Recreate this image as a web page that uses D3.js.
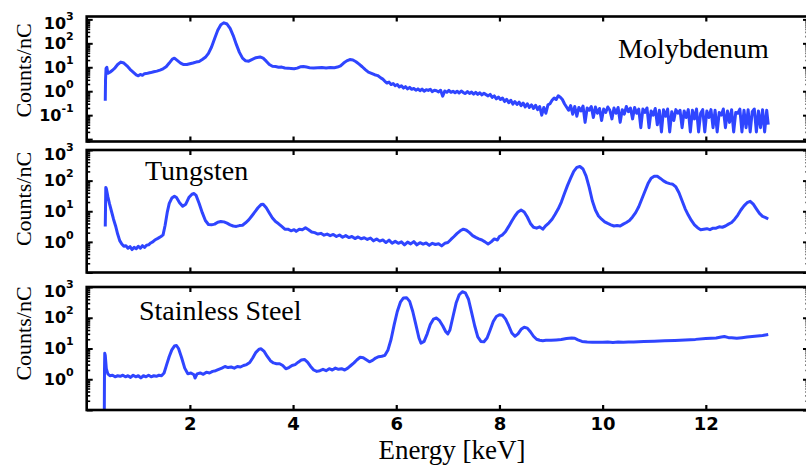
<!DOCTYPE html>
<html><head><meta charset="utf-8">
<script src="https://cdn.jsdelivr.net/npm/d3@7/dist/d3.min.js"></script>
<style>
html,body{margin:0;padding:0;background:#fff;}
svg{display:block;}
</style></head>
<body>
<svg id="chart" width="806" height="466"></svg>
<script>
// ---------------- DATA ----------------
const xTicks = [2, 4, 6, 8, 10, 12];
const panelNames = ["Molybdenum", "Tungsten", "Stainless Steel"];
const yTickExpTop = [-1, 0, 1, 2, 3];
const yTickExpOther = [0, 1, 2, 3];

const moEnergy = [0.36,0.365,0.375,0.39,0.41,0.45,0.5,0.55,0.6,0.66,0.72,0.78,0.84,0.9,0.96,1.0,1.04,1.08,1.12,1.18,1.24,1.3,1.36,1.42,1.48,1.54,1.6,1.66,1.7,1.76,1.82,1.88,1.94,2.0,2.06,2.12,2.18,2.24,2.3,2.36,2.42,2.48,2.54,2.6,2.66,2.72,2.78,2.84,2.9,2.96,3.02,3.08,3.14,3.2,3.28,3.36,3.42,3.48,3.54,3.6,3.66,3.72,3.78,3.84,3.9,3.96,4.02,4.08,4.14,4.2,4.26,4.32,4.4,4.48,4.56,4.64,4.72,4.8,4.86,4.92,4.98,5.04,5.1,5.16,5.22,5.28,5.34,5.4,5.46,5.52,5.58,5.64,5.7,5.74,5.78,5.82,5.86,5.9,5.94,5.98,6.02,6.06,6.1,6.14,6.18,6.22,6.26,6.3,6.34,6.38,6.42,6.46,6.5,6.54,6.58,6.62,6.66,6.7,6.74,6.78,6.82,6.86,6.9,6.94,6.98,7.02,7.06,7.1,7.14,7.18,7.22,7.26,7.3,7.34,7.38,7.42,7.46,7.5,7.54,7.58,7.62,7.66,7.7,7.74,7.78,7.82,7.86,7.9,7.94,7.98,8.02,8.06,8.1,8.14,8.18,8.22,8.26,8.3,8.34,8.38,8.42,8.46,8.5,8.54,8.58,8.62,8.66,8.7,8.74,8.78,8.82,8.86,8.9,8.94,8.98,9.02,9.06,9.1,9.14,9.18,9.22,9.26,9.3,9.34,9.38,9.42,9.46,9.5,9.54,9.58,9.62,9.66,9.7,9.74,9.78,9.82,9.86,9.9,9.94,9.98,10.02,10.06,10.1,10.14,10.18,10.22,10.26,10.3,10.34,10.38,10.42,10.46,10.5,10.54,10.58,10.62,10.66,10.7,10.74,10.78,10.82,10.86,10.9,10.94,10.98,11.02,11.06,11.1,11.14,11.18,11.22,11.26,11.3,11.34,11.38,11.42,11.46,11.5,11.54,11.58,11.62,11.66,11.7,11.74,11.78,11.82,11.86,11.9,11.94,11.98,12.02,12.06,12.1,12.14,12.18,12.22,12.26,12.3,12.34,12.38,12.42,12.46,12.5,12.54,12.58,12.62,12.66,12.7,12.74,12.78,12.82,12.86,12.9,12.94,12.98,13.02,13.06,13.1,13.14,13.18,13.21];
const moCounts = [0.4,3,9,10,5.6,6.2,7.5,9.5,13,16.5,15,11.5,8.2,6.3,4.8,4.4,5.0,4.6,5.4,5.6,6.0,6.5,6.9,7.6,8.6,10.5,15,22,24,19,15,13,13,14,15,16.5,17.5,21,26,38,70,160,350,600,720,640,420,210,90,42,24,18.5,18,21,25,27,24,18,13,11,10.8,10,10.2,9.3,9.2,8.9,8.6,9.2,10.5,10.8,10.2,9.6,9.3,9.5,9.7,9.4,9.8,9.6,10.2,11.5,15,18.5,21,20,17,13.5,10.5,8,6.3,5.6,4.9,4.5,3.6,3.2,2.6,2.2,2.4,1.9,2.1,1.7,1.9,1.5,1.7,1.35,1.55,1.25,1.45,1.2,1.3,1.1,1.25,1.05,1.22,1.0,1.15,1.08,1.2,0.96,1.1,1.04,0.93,1.1,0.62,1.02,0.9,1.08,0.9,1.0,0.86,1.0,0.84,1.02,0.88,0.8,0.97,0.8,0.92,0.76,0.9,0.74,0.86,0.7,0.82,0.72,0.64,0.74,0.55,0.64,0.48,0.57,0.45,0.52,0.37,0.46,0.33,0.42,0.29,0.37,0.28,0.35,0.25,0.32,0.22,0.3,0.21,0.27,0.19,0.26,0.17,0.23,0.1,0.21,0.12,0.27,0.3,0.42,0.52,0.45,0.64,0.56,0.45,0.3,0.22,0.16,0.25,0.11,0.23,0.09,0.21,0.15,0.24,0.05,0.2,0.16,0.23,0.08,0.22,0.12,0.19,0.06,0.18,0.13,0.22,0.16,0.07,0.2,0.12,0.21,0.05,0.17,0.11,0.23,0.14,0.2,0.07,0.21,0.12,0.18,0.03,0.18,0.13,0.2,0.03,0.15,0.1,0.19,0.04,0.16,0.02,0.17,0.09,0.18,0.02,0.14,0.06,0.17,0.12,0.16,0.03,0.15,0.08,0.17,0.02,0.16,0.07,0.18,0.02,0.12,0.17,0.02,0.15,0.08,0.17,0.03,0.16,0.02,0.13,0.1,0.18,0.03,0.15,0.05,0.17,0.02,0.13,0.12,0.18,0.02,0.16,0.03,0.17,0.02,0.14,0.18,0.02,0.15,0.03,0.17,0.02,0.16,0.04];

const wEnergy = [0.36,0.37,0.38,0.41,0.44,0.48,0.52,0.56,0.6,0.64,0.68,0.72,0.76,0.8,0.84,0.88,0.92,0.96,1.0,1.04,1.08,1.12,1.16,1.2,1.24,1.28,1.32,1.38,1.44,1.48,1.52,1.56,1.6,1.65,1.7,1.74,1.8,1.86,1.92,1.98,2.04,2.08,2.12,2.18,2.24,2.3,2.36,2.42,2.48,2.54,2.6,2.66,2.72,2.78,2.84,2.9,2.96,3.02,3.08,3.14,3.2,3.26,3.32,3.38,3.42,3.48,3.54,3.6,3.66,3.72,3.78,3.84,3.9,3.96,4.02,4.06,4.12,4.18,4.24,4.3,4.36,4.42,4.48,4.54,4.6,4.66,4.72,4.78,4.84,4.9,4.96,5.02,5.08,5.14,5.2,5.26,5.32,5.38,5.44,5.5,5.56,5.62,5.68,5.74,5.8,5.86,5.92,5.98,6.04,6.1,6.16,6.22,6.28,6.34,6.4,6.46,6.52,6.58,6.64,6.7,6.76,6.82,6.88,6.94,7.0,7.06,7.12,7.18,7.24,7.3,7.36,7.42,7.48,7.54,7.6,7.66,7.72,7.78,7.84,7.9,7.96,8.0,8.06,8.12,8.18,8.24,8.3,8.36,8.42,8.48,8.54,8.6,8.66,8.72,8.78,8.84,8.9,8.96,9.02,9.08,9.14,9.2,9.26,9.32,9.38,9.44,9.5,9.56,9.62,9.68,9.74,9.8,9.86,9.92,9.98,10.04,10.1,10.16,10.22,10.28,10.34,10.4,10.46,10.52,10.58,10.64,10.7,10.76,10.82,10.88,10.94,11.0,11.06,11.12,11.18,11.24,11.3,11.36,11.42,11.48,11.54,11.6,11.66,11.72,11.78,11.84,11.9,11.96,12.02,12.08,12.14,12.2,12.26,12.32,12.38,12.44,12.5,12.56,12.62,12.68,12.74,12.8,12.86,12.92,12.98,13.04,13.1,13.16,13.21];
const wCounts = [3.2,60,55,30,18,10,5.5,3.3,1.8,1.1,0.85,0.72,0.75,0.62,0.7,0.56,0.66,0.6,0.72,0.62,0.75,0.66,0.78,0.8,0.92,1.0,1.15,1.3,1.5,1.7,3.5,9,18,27,31,28,19,14.5,17,28,36,38,33,18,9,5,3.7,3.6,3.8,4.4,4.6,4.5,4.1,3.6,3.3,3.2,3.4,3.5,4.2,5.2,7,9.5,13,16.5,17,13,8.8,6,4.6,3.9,3.2,2.6,2.6,2.3,2.5,2.2,2.6,2.5,2.9,2.5,2.1,2.0,1.8,1.9,1.65,1.8,1.6,1.75,1.5,1.68,1.42,1.6,1.38,1.5,1.28,1.45,1.27,1.36,1.2,1.34,1.08,1.25,1.06,1.16,0.95,1.14,0.9,1.04,0.9,1.0,0.8,0.98,0.86,1.02,0.8,0.94,0.84,0.92,0.77,0.9,0.82,0.87,0.74,0.9,0.95,1.2,1.5,1.9,2.3,2.6,2.4,2.0,1.6,1.4,1.25,1.15,1.0,0.85,1.0,1.25,1.15,1.5,1.7,2.2,3.2,4.8,7,9.5,11,9.5,6.5,4,3.0,2.8,3.1,2.6,3.4,4.2,5.5,8,12,20,38,70,120,200,270,290,240,140,60,22,11,7,5.5,4.5,4.0,3.6,3.3,3.4,3.3,3.8,4.3,5,6.5,9,14,25,45,80,120,140,138,118,98,86,80,76,62,40,22,12,7.5,5,3.6,2.9,2.5,2.6,2.7,2.5,2.8,2.8,3.1,3.0,3.3,3.8,4.3,5.5,7.5,11,15,19,21,17,12,8.5,6.8,6.2,5.6];

const ssEnergy = [0.34,0.345,0.35,0.36,0.38,0.41,0.45,0.5,0.55,0.6,0.65,0.7,0.75,0.8,0.85,0.9,0.95,1.0,1.05,1.1,1.15,1.2,1.25,1.3,1.35,1.4,1.45,1.5,1.55,1.6,1.65,1.7,1.74,1.78,1.84,1.9,1.96,2.02,2.08,2.1,2.14,2.2,2.26,2.32,2.38,2.44,2.5,2.56,2.62,2.68,2.74,2.8,2.86,2.92,2.98,3.04,3.1,3.16,3.22,3.28,3.34,3.38,3.44,3.5,3.56,3.62,3.68,3.74,3.8,3.86,3.92,3.98,4.04,4.1,4.16,4.22,4.28,4.34,4.4,4.46,4.52,4.58,4.64,4.7,4.76,4.82,4.88,4.94,5.0,5.06,5.12,5.18,5.24,5.3,5.36,5.42,5.48,5.54,5.6,5.66,5.72,5.78,5.84,5.9,5.96,6.02,6.08,6.14,6.2,6.26,6.32,6.38,6.44,6.48,6.54,6.6,6.66,6.72,6.78,6.84,6.9,6.96,7.0,7.04,7.1,7.16,7.22,7.28,7.34,7.4,7.46,7.52,7.58,7.64,7.7,7.76,7.82,7.88,7.94,8.0,8.06,8.12,8.18,8.24,8.3,8.36,8.42,8.48,8.54,8.6,8.66,8.72,8.78,8.84,8.9,9.0,9.1,9.2,9.3,9.4,9.46,9.52,9.6,9.7,9.8,9.9,10.0,10.1,10.2,10.3,10.4,10.5,10.6,10.8,11.0,11.2,11.4,11.6,11.8,12.0,12.2,12.3,12.36,12.44,12.5,12.6,12.7,12.8,12.9,13.0,13.1,13.21];
const ssCounts = [0.03,2,7,6,2.2,1.5,1.3,1.35,1.2,1.3,1.25,1.35,1.2,1.3,1.15,1.35,1.2,1.3,1.1,1.3,1.2,1.35,1.2,1.3,1.25,1.35,1.3,1.6,3,5.5,9,12,12.5,10,5,2.3,1.5,1.6,1.4,1.1,1.5,1.6,1.45,1.7,1.6,1.8,1.9,2.1,2.3,2.6,2.4,2.5,2.3,2.6,2.5,2.8,3.0,3.5,5,7.5,9.5,9.8,8,5.5,4,3.4,3.2,3.2,2.8,2.2,2.4,2.8,3.0,3.6,4.2,4.4,3.6,2.6,2.0,1.8,1.9,2.1,1.9,2.2,2.0,2.3,2.1,2.2,2.0,2.3,2.8,3.4,4.3,5.2,5.0,4.3,3.7,4.1,4.9,5.4,5.6,6.0,9,20,60,160,320,440,450,340,160,60,22,15,17,30,60,90,98,80,55,35,30,40,110,300,560,700,640,400,150,55,24,17,16.5,22,40,75,110,125,120,90,55,32,25,30,42,49,46,35,25,20,18.5,18,18.5,18.5,19,19.5,21,22,21.5,19,17,16.2,16,16,16,16.2,15.8,16.3,16.1,16.2,16.3,16.8,17.3,17.8,18.3,19,19.8,21,22,23.5,24.5,22.5,22.5,21.5,22.5,23.5,24.5,25.5,26.5,28.5];

// ---------------- LAYOUT ----------------
const LINE_COLOR = "#2f45ff";
const svg = d3.select("#chart");
const x = d3.scaleLinear().domain([0, 14]).range([86.7, 809]);

const panels = [
  {name: panelNames[0], E: moEnergy, V: moCounts, top: 16.5, bottom: 141.5, dom: [Math.pow(10,-2.1), Math.pow(10,3.12)], ticks: yTickExpTop, lx: 618, ly: 58, titleY: 70.5},
  {name: panelNames[1], E: wEnergy, V: wCounts, top: 150, bottom: 272.5, dom: [0.1, 1000], ticks: yTickExpOther, lx: 145, ly: 180, titleY: 199},
  {name: panelNames[2], E: ssEnergy, V: ssCounts, top: 287, bottom: 410, dom: [0.1, 1000], ticks: yTickExpOther, lx: 139, ly: 320, titleY: 333.5}
];

panels.forEach((p, i) => {
  const y = d3.scaleLog().domain(p.dom).range([p.bottom, p.top]);
  const g = svg.append("g");
  const cid = "clip" + i;
  svg.append("defs").append("clipPath").attr("id", cid)
    .append("rect").attr("x", x.range()[0]).attr("y", p.top).attr("width", x.range()[1]-x.range()[0]).attr("height", p.bottom - p.top);

  const minor = [];
  for (let e = -3; e <= 3; e++) for (let m = 2; m <= 9; m++) {
    const v = m * Math.pow(10, e);
    if (v > p.dom[0] && v < p.dom[1]) minor.push(v);
  }
  const majorAll = [];
  for (let e = -3; e <= 3; e++) { const v = Math.pow(10, e); if (v >= p.dom[0] && v <= p.dom[1]) majorAll.push(v); }

  g.append("g").attr("transform", `translate(${x.range()[0]},0)`)
    .call(d3.axisLeft(y).tickValues(minor).tickSize(-3.5).tickFormat(""))
    .call(a => { a.select(".domain").remove(); a.selectAll("line").attr("stroke","#000").attr("stroke-width",1.6); });
  g.append("g").attr("transform", `translate(${x.range()[1]},0)`)
    .call(d3.axisRight(y).tickValues(minor).tickSize(-3.5).tickFormat(""))
    .call(a => { a.select(".domain").remove(); a.selectAll("line").attr("stroke","#000").attr("stroke-width",1.6); });
  g.append("g").attr("transform", `translate(${x.range()[1]},0)`)
    .call(d3.axisRight(y).tickValues(majorAll).tickSize(-6).tickFormat(""))
    .call(a => { a.select(".domain").remove(); a.selectAll("line").attr("stroke","#000").attr("stroke-width",2); });
  const la = g.append("g").attr("transform", `translate(${x.range()[0]},0)`)
    .call(d3.axisLeft(y).tickValues(majorAll).tickSize(-6).tickPadding(13).tickFormat(""));
  la.select(".domain").remove();
  la.selectAll("line").attr("stroke","#000").attr("stroke-width",2);
  la.selectAll(".tick").each(function(v) {
    const e = Math.round(Math.log10(v));
    if (!p.ticks.includes(e)) return;
    const t = d3.select(this).select("text");
    t.attr("font-family", "'DejaVu Sans', sans-serif").attr("font-weight", "bold").attr("font-size", 16).attr("fill", "#000");
    if (e === 3) t.attr("transform", "translate(0,4.5)");
    t.append("tspan").text("10");
    t.append("tspan").attr("font-size", 11).attr("dy", -9).text(String(e));
  });

  [["bottom", p.bottom, d3.axisBottom], ["top", p.top, d3.axisTop]].forEach(([side, yy, fn]) => {
    const ax = g.append("g").attr("transform", `translate(0,${yy})`)
      .call(fn(x).tickValues(xTicks).tickSize(-5).tickPadding(7.5).tickFormat(i === 2 && side === "bottom" ? d3.format("d") : ""));
    ax.select(".domain").remove();
    ax.selectAll("line").attr("stroke","#000").attr("stroke-width",2.2);
    ax.selectAll("text").attr("font-family", "'DejaVu Sans', sans-serif").attr("font-weight","bold").attr("font-size",18).attr("fill","#000");
  });

  const pts = p.E.map((e, k) => [e, p.V[k]]);
  g.append("path").datum(pts)
    .attr("clip-path", `url(#${cid})`)
    .attr("fill", "none").attr("stroke", LINE_COLOR).attr("stroke-width", 3)
    .attr("stroke-linejoin", "round").attr("stroke-linecap", "butt")
    .attr("d", d3.line().x(d => x(d[0])).y(d => y(d[1])));

  g.append("rect").attr("x", x.range()[0]).attr("y", p.top)
    .attr("width", x.range()[1] - x.range()[0]).attr("height", p.bottom - p.top)
    .attr("fill", "none").attr("stroke", "#000").attr("stroke-width", 2.6);

  g.append("text").attr("x", p.lx).attr("y", p.ly)
    .attr("font-family", "'Liberation Serif', 'Times New Roman', serif").attr("font-size", 28).attr("fill", "#000")
    .text(p.name);

  g.append("text").attr("transform", `translate(31,${p.titleY}) rotate(-90)`)
    .attr("text-anchor", "middle")
    .attr("font-family", "'Liberation Serif', 'Times New Roman', serif").attr("font-size", 22).attr("fill", "#000")
    .text("Counts/nC");
});

svg.append("text").attr("x", 452).attr("y", 459).attr("text-anchor", "middle")
  .attr("font-family", "'Liberation Serif', 'Times New Roman', serif").attr("font-size", 27).attr("fill", "#000")
  .text("Energy [keV]");
</script>
</body></html>
